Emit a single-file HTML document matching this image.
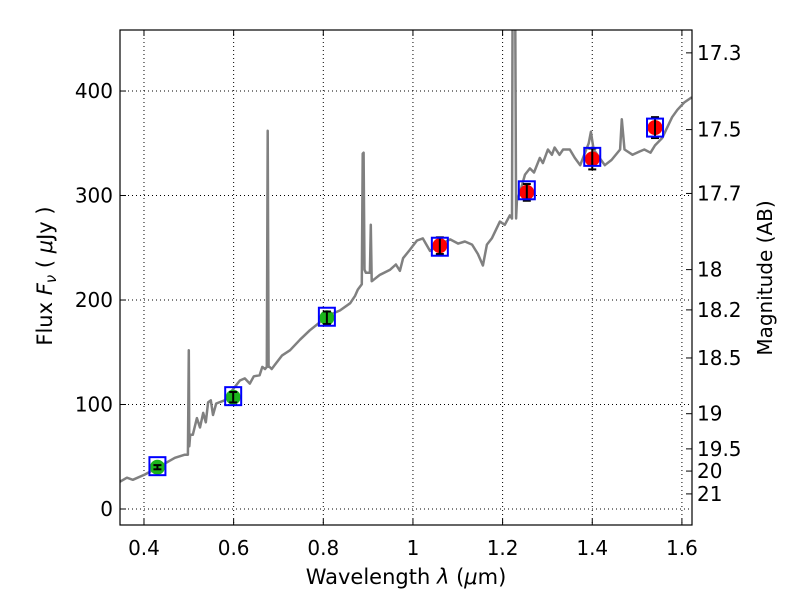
<!DOCTYPE html>
<html><head><meta charset="utf-8"><style>
body{margin:0;background:#fff}
svg text{font-family:"DejaVu Sans","Liberation Sans",sans-serif;fill:#000}
</style></head><body>
<svg id="chart" width="800" height="600" viewBox="0 0 800 600" xmlns="http://www.w3.org/2000/svg">
<rect width="800" height="600" fill="#fff"/>
<g id="grid"></g>
<g id="spec"></g>
<g id="pts"></g>
<rect x="120" y="30" width="572" height="495" fill="none" stroke="#000" stroke-width="1.2"/>
<g id="axes"></g>
<text x="406" y="584" font-size="21" text-anchor="middle">Wavelength  <tspan font-style="italic">λ</tspan> (<tspan font-style="italic">μ</tspan>m)</text>
<text transform="translate(52,276) rotate(-90)" font-size="21" text-anchor="middle">Flux  <tspan font-style="italic">F<tspan font-size="15" dy="4">ν</tspan></tspan><tspan dy="-4">  ( <tspan font-style="italic">μ</tspan>Jy )</tspan></text>
<text transform="translate(772,278) rotate(-90)" font-size="20" text-anchor="middle">Magnitude (AB)</text>
</svg>
<script>
const specWave=[0.346,0.362,0.375,0.402,0.436,0.469,0.491,0.498,0.500,0.501,0.503,0.509,0.518,0.525,0.532,0.538,0.543,0.549,0.554,0.561,0.58,0.592,0.614,0.625,0.636,0.645,0.658,0.664,0.670,0.674,0.676,0.678,0.680,0.685,0.692,0.708,0.726,0.748,0.77,0.793,0.815,0.837,0.86,0.871,0.877,0.886,0.888,0.890,0.892,0.895,0.904,0.906,0.908,0.911,0.926,0.949,0.962,0.971,0.978,0.993,1.009,1.022,1.038,1.06,1.083,1.101,1.116,1.132,1.145,1.156,1.165,1.176,1.194,1.205,1.216,1.221,1.223,1.227,1.230,1.232,1.24,1.25,1.261,1.27,1.283,1.29,1.301,1.31,1.316,1.327,1.335,1.35,1.361,1.373,1.392,1.397,1.403,1.428,1.443,1.462,1.466,1.472,1.49,1.505,1.516,1.53,1.54,1.556,1.578,1.59,1.605,1.622];
const specFlux=[26,30,28,33,41,49,52,52,152,60,71,71,87,78,92,83,102,104,90,101,104,111,123,125,120,127,128,136,134,136,362,136,136,134,138,147,152,162,171,179,186,190,197,204,210,215,340,341,229,226,226,272,218,219,224,229,234,228,240,248,257,259,247,253,258,254,256,253,244,233,253,259,275,272,281,278,600,600,278,295,305,320,326,322,336,331,344,339,346,339,344,344,336,329,350,361,344,329,334,344,373,344,339,342,344,341,348,355,375,382,389,394];
const photWave=[0.43,0.599,0.808,1.06,1.254,1.40,1.54];
const photFlux=[40,107,183,252,303,335,365];
const photErr=[2,5,6,8,8,10,10];
const photColor=["#1cb51c","#1cb51c","#1cb51c","#ff0000","#ff0000","#ff0000","#ff0000"];
const modelFlux=[41,108,184,251,305,337,365];
const xTicks=[0.4,0.6,0.8,1.0,1.2,1.4,1.6];
const xTickLabels=["0.4","0.6","0.8","1","1.2","1.4","1.6"];
const yTicks=[0,100,200,300,400];
const magTicks=[17.3,17.5,17.7,18,18.2,18.5,19,19.5,20,21];
const magLabels=["17.3","17.5","17.7","18","18.2","18.5","19","19.5","20","21"];

const X0=120,X1=692,Y0=525,Y1=30,XMIN=0.3465,XMAX=1.6225,YMIN=-15.3,YMAX=458.4;
const sx=v=>X0+(v-XMIN)/(XMAX-XMIN)*(X1-X0);
const sy=v=>Y0-(v-YMIN)/(YMAX-YMIN)*(Y0-Y1);
const NS="http://www.w3.org/2000/svg";
function mk(tag,attrs,parent){const e=document.createElementNS(NS,tag);for(const k in attrs)e.setAttribute(k,attrs[k]);parent.appendChild(e);return e;}
const grid=document.getElementById('grid'),axes=document.getElementById('axes'),spec=document.getElementById('spec'),pts=document.getElementById('pts');
const defs=mk('defs',{},document.getElementById('chart'));
const cp=mk('clipPath',{id:'clip'},defs);mk('rect',{x:X0,y:Y1,width:X1-X0,height:Y0-Y1},cp);
xTicks.forEach((t,i)=>{const x=sx(t);
 const g=mk('line',{x1:x,x2:x,y1:Y1,y2:Y0,stroke:'#000','stroke-width':1,'stroke-dasharray':'1,3'},grid);
 
 mk('line',{x1:x,x2:x,y1:Y0,y2:Y0-6,stroke:'#000'},axes);mk('line',{x1:x,x2:x,y1:Y1,y2:Y1+6,stroke:'#000'},axes);
 const l=mk('text',{x:x,y:555,'font-size':20,'text-anchor':'middle'},axes);l.textContent=xTickLabels[i];
 });
yTicks.forEach(t=>{const y=sy(t);
 const g=mk('line',{x1:X0,x2:X1,y1:y,y2:y,stroke:'#000','stroke-width':1,'stroke-dasharray':'1,3'},grid);
 
 mk('line',{x1:X0,x2:X0+6,y1:y,y2:y,stroke:'#000'},axes);
 const l=mk('text',{x:113,y:y+7,'font-size':20,'text-anchor':'end'},axes);l.textContent=String(t);
 });
magTicks.forEach((m,i)=>{const y=sy(Math.pow(10,(23.9-m)/2.5));
 mk('line',{x1:X1,x2:X1-6,y1:y,y2:y,stroke:'#000'},axes);
 const l=mk('text',{x:697,y:y+7,'font-size':20},axes);l.textContent=magLabels[i];
 });
const d=specWave.map((w,i)=>(i?'L':'M')+sx(w).toFixed(1)+','+sy(specFlux[i]).toFixed(1)).join('');
const p=mk('path',{d:d,fill:'none',stroke:'#808080','stroke-width':2.5,'stroke-linejoin':'round','clip-path':'url(#clip)'},spec);

photWave.forEach((w,i)=>{const x=sx(w),y=sy(photFlux[i]);
 const c=mk('circle',{cx:x,cy:y,r:7.5,fill:photColor[i]},pts);
 
 const ya=sy(photFlux[i]+photErr[i]),yb=sy(photFlux[i]-photErr[i]);
 mk('line',{x1:x,x2:x,y1:ya,y2:yb,stroke:'#000','stroke-width':2},pts);
 mk('line',{x1:x-4,x2:x+4,y1:ya,y2:ya,stroke:'#000','stroke-width':2},pts);
 mk('line',{x1:x-4,x2:x+4,y1:yb,y2:yb,stroke:'#000','stroke-width':2},pts);
 const my=sy(modelFlux[i]);
 const b=mk('rect',{x:x-8,y:my-9,width:16,height:18,fill:'none',stroke:'#0000ff','stroke-width':2},pts);
 });
</script>
</body></html>
